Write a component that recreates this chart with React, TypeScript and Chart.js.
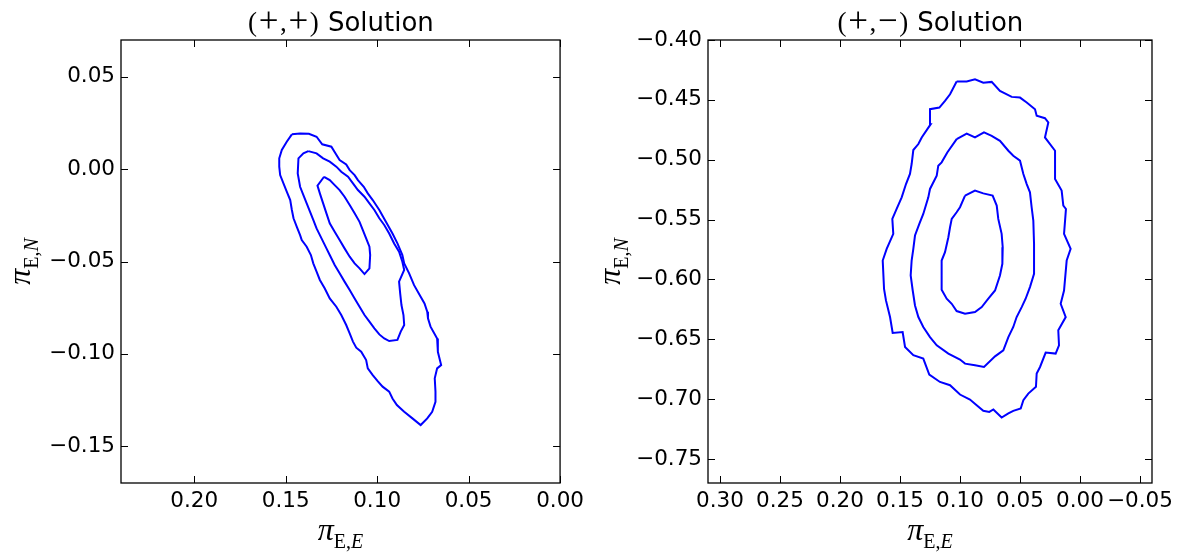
import React, { useEffect, useRef } from 'react';
import { Chart, registerables } from 'chart.js';

Chart.register(...registerables);

type Pt = [number, number];

// ---------- titles / labels ----------
const leftTitleMath = ['(', '+', ',', '+', ')'];
const rightTitleMath = ['(', '+', ',', '\u2212', ')'];
const titleWord = 'Solution';

// ---------- axes ----------
const leftXRange: [number, number] = [0.0, 0.24];
const leftYRange: [number, number] = [-0.17, 0.07];
const leftXTicks = [0.2, 0.15, 0.1, 0.05, 0.0];
const leftYTicks = [-0.15, -0.1, -0.05, 0.0, 0.05];

const rightXRange: [number, number] = [-0.06, 0.31];
const rightYRange: [number, number] = [-0.77, -0.4];
const rightXTicks = [0.3, 0.25, 0.2, 0.15, 0.1, 0.05, 0.0, -0.05];
const rightYTicks = [-0.75, -0.7, -0.65, -0.6, -0.55, -0.5, -0.45, -0.4];

// ---------- (+,+) contours ----------
const ppOuter: Pt[] = [
  [0.1466, 0.0189], [0.1421, 0.0194], [0.1373, 0.0192], [0.1331, 0.0176], [0.13, 0.0135],
  [0.125, 0.0122], [0.1228, 0.0086], [0.1205, 0.005], [0.1169, 0.0026], [0.115, -0.0005],
  [0.1123, -0.0032], [0.1105, -0.0059], [0.1073, -0.0095], [0.1051, -0.0131], [0.1024, -0.0167],
  [0.0988, -0.0221], [0.0952, -0.0285], [0.0916, -0.0348], [0.0889, -0.0402], [0.0862, -0.0465],
  [0.0852, -0.051], [0.0825, -0.0564], [0.0798, -0.0628], [0.0762, -0.0691], [0.0741, -0.0727],
  [0.0726, -0.0772], [0.0722, -0.0808], [0.0708, -0.0853], [0.0672, -0.0917], [0.0668, -0.0989],
  [0.065, -0.1061], [0.0672, -0.1079], [0.0685, -0.1133], [0.0681, -0.1205], [0.0681, -0.126],
  [0.0699, -0.1314], [0.0726, -0.135], [0.0762, -0.1386], [0.0807, -0.135], [0.0852, -0.1314],
  [0.0892, -0.1278], [0.0916, -0.1242], [0.0934, -0.1205], [0.097, -0.1178], [0.0997, -0.1148],
  [0.1024, -0.1115], [0.1051, -0.1079], [0.106, -0.1034], [0.1087, -0.0989], [0.1114, -0.0967],
  [0.1132, -0.0934], [0.115, -0.0889], [0.1169, -0.0844], [0.1196, -0.079], [0.1223, -0.0745],
  [0.1259, -0.07], [0.1286, -0.0646], [0.1313, -0.06], [0.1331, -0.0555], [0.1349, -0.051],
  [0.1362, -0.0465], [0.1385, -0.042], [0.1412, -0.0384], [0.1421, -0.0357], [0.1439, -0.0312],
  [0.1457, -0.0266], [0.1466, -0.0221], [0.1475, -0.0167], [0.1494, -0.0122], [0.1512, -0.0077],
  [0.153, -0.0032], [0.1535, 0.0014], [0.1535, 0.0059], [0.1521, 0.0104], [0.1494, 0.0149],
];
const ppMiddle: Pt[] = [
  [0.1376, 0.0098], [0.1331, 0.0086], [0.1295, 0.0059], [0.1259, 0.0041], [0.1223, 0.0014],
  [0.1196, -0.0014], [0.1159, -0.0041], [0.1132, -0.0077], [0.1105, -0.0113], [0.1069, -0.0149],
  [0.1042, -0.0185], [0.1015, -0.0221], [0.0988, -0.0266], [0.0961, -0.0302], [0.0934, -0.0348],
  [0.0907, -0.0402], [0.088, -0.0447], [0.0862, -0.0501], [0.0852, -0.0546], [0.088, -0.0609],
  [0.0874, -0.0673], [0.0867, -0.0736], [0.0856, -0.079], [0.0852, -0.0844], [0.0871, -0.088],
  [0.0889, -0.0925], [0.0934, -0.0931], [0.0961, -0.0917], [0.0988, -0.0895], [0.1015, -0.0862],
  [0.1042, -0.0826], [0.1069, -0.079], [0.1096, -0.0745], [0.1123, -0.07], [0.115, -0.0655],
  [0.1178, -0.0609], [0.1205, -0.0564], [0.1232, -0.0519], [0.1259, -0.0465], [0.1277, -0.0429],
  [0.1304, -0.0375], [0.1331, -0.0321], [0.1349, -0.0275], [0.1367, -0.023], [0.1385, -0.0185],
  [0.1403, -0.014], [0.1421, -0.0095], [0.1434, -0.0023], [0.143, 0.0059], [0.1403, 0.0086],
];
const ppInner: Pt[] = [
  [0.129, -0.0041], [0.1259, -0.0059], [0.1232, -0.0086], [0.1205, -0.0113], [0.1178, -0.0149],
  [0.115, -0.0194], [0.1123, -0.0239], [0.1096, -0.0285], [0.1078, -0.033], [0.106, -0.0375],
  [0.1042, -0.042], [0.1038, -0.0465], [0.1042, -0.0537], [0.1069, -0.0568], [0.1096, -0.0537],
  [0.1123, -0.051], [0.115, -0.0474], [0.1178, -0.0429], [0.1205, -0.0384], [0.1232, -0.0339],
  [0.1259, -0.0293], [0.1277, -0.0239], [0.1295, -0.0185], [0.1313, -0.0131], [0.1326, -0.0089],
];

// ---------- (+,-) contours ----------
const pmOuter: Pt[] = [
  [0.1028, -0.4347], [0.0944, -0.4347], [0.0875, -0.4328], [0.0806, -0.4356], [0.0736, -0.435],
  [0.0667, -0.4425], [0.0569, -0.4475], [0.05, -0.4481], [0.0444, -0.4522], [0.0375, -0.4578],
  [0.0361, -0.4633], [0.0292, -0.4653], [0.0264, -0.4689], [0.0292, -0.4814], [0.0208, -0.4925],
  [0.0208, -0.5161], [0.0153, -0.5258], [0.0139, -0.5383], [0.0117, -0.5411], [0.0133, -0.5619],
  [0.0078, -0.5744], [0.0111, -0.5842], [0.0133, -0.6092], [0.0161, -0.6203], [0.0119, -0.6314],
  [0.0181, -0.6425], [0.0175, -0.655], [0.0203, -0.6619], [0.0286, -0.6611], [0.0333, -0.6731],
  [0.0361, -0.6786], [0.0367, -0.6897], [0.0431, -0.6953], [0.0472, -0.7008], [0.0494, -0.7078],
  [0.0556, -0.7097], [0.0597, -0.7119], [0.0653, -0.7153], [0.0722, -0.7086], [0.0756, -0.7106],
  [0.0806, -0.7097], [0.0861, -0.705], [0.0917, -0.7003], [0.1, -0.6961], [0.1083, -0.6883],
  [0.1167, -0.6856], [0.1256, -0.6794], [0.1306, -0.6661], [0.1389, -0.6633], [0.1458, -0.6564],
  [0.1478, -0.6439], [0.1561, -0.6447], [0.1583, -0.6314], [0.1617, -0.6175], [0.1633, -0.6078],
  [0.1644, -0.5842], [0.1611, -0.5744], [0.1556, -0.5619], [0.1564, -0.5494], [0.1528, -0.5411],
  [0.1486, -0.5314], [0.145, -0.5203], [0.1417, -0.5119], [0.1403, -0.5036], [0.1389, -0.4919],
  [0.1347, -0.4869], [0.1319, -0.4814], [0.1244, -0.4703], [0.125, -0.4578], [0.1172, -0.4564],
  [0.1125, -0.4508], [0.1083, -0.4453],
];
const pmMiddle: Pt[] = [
  [0.1028, -0.4828], [0.0944, -0.4781], [0.0875, -0.4814], [0.08, -0.4772], [0.0736, -0.48],
  [0.0667, -0.4842], [0.0597, -0.4925], [0.0556, -0.4967], [0.05, -0.5008], [0.0472, -0.5119],
  [0.0444, -0.5203], [0.0417, -0.5272], [0.0403, -0.5397], [0.0389, -0.5508], [0.0383, -0.5703],
  [0.0383, -0.5953], [0.0417, -0.6064], [0.0453, -0.6161], [0.0486, -0.6231], [0.0528, -0.6314],
  [0.0556, -0.6397], [0.0597, -0.6481], [0.0639, -0.6592], [0.0708, -0.6642], [0.08, -0.6731],
  [0.0875, -0.6717], [0.0958, -0.6703], [0.1, -0.6669], [0.1097, -0.6619], [0.1194, -0.655],
  [0.125, -0.6481], [0.1306, -0.6397], [0.1347, -0.6314], [0.1375, -0.6217], [0.1394, -0.6092],
  [0.1411, -0.5967], [0.1403, -0.5842], [0.1389, -0.5744], [0.1375, -0.5633], [0.1339, -0.5536],
  [0.1306, -0.5453], [0.1264, -0.5314], [0.125, -0.5244], [0.1194, -0.5133], [0.1181, -0.505],
  [0.1153, -0.5022], [0.1106, -0.4939],
];
const pmInner: Pt[] = [
  [0.0958, -0.53], [0.0875, -0.5258], [0.0806, -0.5281], [0.0728, -0.53], [0.0694, -0.5383],
  [0.0681, -0.5494], [0.0653, -0.5619], [0.0644, -0.5731], [0.0647, -0.5869], [0.0667, -0.5967],
  [0.0708, -0.6092], [0.0764, -0.6161], [0.0819, -0.6231], [0.0875, -0.6272], [0.0958, -0.6286],
  [0.1028, -0.6264], [0.1069, -0.6203], [0.1111, -0.6161], [0.1153, -0.6086], [0.1153, -0.5953],
  [0.1153, -0.5842], [0.1125, -0.5772], [0.1097, -0.5647], [0.1083, -0.5564], [0.1069, -0.5494],
  [0.1028, -0.5439], [0.1, -0.5397],
];

// ---------- rendering ----------
const SERIF = '"Liberation Serif", "DejaVu Serif", serif';
const SANS = '"DejaVu Sans", sans-serif';
const TICK_FONT_SIZE = 21.5;
const MATH_SIZE = 27;

// advance widths (em) and glyph sizes of Computer-Modern-like math glyphs
const mathAdvance: Record<string, number> = {
  '(': 0.39,
  ')': 0.39,
  '+': 0.8,
  '\u2212': 0.8,
  ',': 0.3,
};
const mathGlyphSize: Record<string, number> = {
  '(': 27,
  ')': 27,
  '+': 35,
  '\u2212': 35,
  ',': 27,
};

type Seg = { t: string; font: string; dy: number; adv?: number };

function drawSegs(ctx: CanvasRenderingContext2D, segs: Seg[], cx: number, baseline: number) {
  const widths = segs.map((s) => {
    ctx.font = s.font;
    return s.adv !== undefined ? s.adv : ctx.measureText(s.t).width;
  });
  const total = widths.reduce((a, b) => a + b, 0);
  let x = cx - total / 2;
  ctx.textBaseline = 'alphabetic';
  segs.forEach((s, i) => {
    ctx.font = s.font;
    if (s.adv !== undefined) {
      ctx.textAlign = 'center';
      ctx.fillText(s.t, x + widths[i] / 2, baseline + s.dy);
    } else {
      ctx.textAlign = 'left';
      ctx.fillText(s.t, x, baseline + s.dy);
    }
    x += widths[i];
  });
}

function fmt(v: number) {
  const r = Math.round(v * 100) / 100;
  return (r < 0 ? '\u2212' : '') + Math.abs(r).toFixed(2);
}

interface Panel {
  titleMath: string[];
  xRange: [number, number];
  yRange: [number, number];
  xTicks: number[];
  yTicks: number[];
  contours: Pt[][];
  canvasWidth: number;
  yAxisWidth: number;
  padRight: number;
}

function panelPlugin(p: Panel) {
  return {
    id: 'panelDecor',
    afterDraw(chart: any) {
      const ctx: CanvasRenderingContext2D = chart.ctx;
      const a = chart.chartArea;
      const xs = chart.scales.x;
      const ys = chart.scales.y;
      ctx.save();
      ctx.strokeStyle = '#000';
      ctx.lineWidth = 1.3;
      ctx.strokeRect(a.left, a.top, a.right - a.left, a.bottom - a.top);
      const tl = 7;
      ctx.beginPath();
      xs.ticks.forEach((t: any) => {
        const px = Math.round(xs.getPixelForValue(t.value)) + 0.5;
        ctx.moveTo(px, a.bottom);
        ctx.lineTo(px, a.bottom - tl);
        ctx.moveTo(px, a.top);
        ctx.lineTo(px, a.top + tl);
      });
      ys.ticks.forEach((t: any) => {
        const py = Math.round(ys.getPixelForValue(t.value)) + 0.5;
        ctx.moveTo(a.left, py);
        ctx.lineTo(a.left + tl, py);
        ctx.moveTo(a.right, py);
        ctx.lineTo(a.right - tl, py);
      });
      ctx.lineWidth = 1;
      ctx.stroke();

      ctx.fillStyle = '#000';
      const cx = (a.left + a.right) / 2;
      // title
      const titleSegs: Seg[] = p.titleMath.map((ch) => {
        const sz = mathGlyphSize[ch] ?? MATH_SIZE;
        const big = sz > MATH_SIZE;
        return {
          t: ch,
          font: `${sz}px ${SERIF}`,
          dy: big ? 1 : 0,
          adv: (mathAdvance[ch] ?? 0.5) * MATH_SIZE,
        };
      });
      titleSegs.push({ t: ' ' + titleWord, font: `26px ${SANS}`, dy: 0 });
      drawSegs(ctx, titleSegs, cx, 31);
      // x axis label
      drawSegs(
        ctx,
        [
          { t: '\u03C0', font: `italic 32px ${SERIF}`, dy: 0 },
          { t: 'E,', font: `20px ${SERIF}`, dy: 8 },
          { t: 'E', font: `italic 20px ${SERIF}`, dy: 8 },
        ],
        cx,
        540
      );
      // y axis label
      const cy = (a.top + a.bottom) / 2;
      ctx.save();
      ctx.translate(30, cy);
      ctx.rotate(-Math.PI / 2);
      drawSegs(
        ctx,
        [
          { t: '\u03C0', font: `italic 32px ${SERIF}`, dy: 0 },
          { t: 'E,', font: `20px ${SERIF}`, dy: 8 },
          { t: 'N', font: `italic 20px ${SERIF}`, dy: 8 },
        ],
        0,
        0
      );
      ctx.restore();
      ctx.restore();
    },
  };
}

function makeConfig(p: Panel): any {
  return {
    type: 'scatter',
    data: {
      datasets: p.contours.map((c) => ({
        data: [...c, c[0]].map(([x, y]) => ({ x, y })),
        showLine: true,
        borderColor: '#0000ff',
        backgroundColor: '#0000ff',
        borderWidth: 2,
        pointRadius: 0,
        pointHoverRadius: 0,
        fill: false,
        tension: 0,
      })),
    },
    options: {
      responsive: false,
      animation: false,
      events: [],
      layout: { padding: { left: 0, top: 40, right: p.padRight, bottom: 0 } },
      plugins: {
        legend: { display: false },
        tooltip: { enabled: false },
        title: { display: false },
      },
      scales: {
        x: {
          type: 'linear',
          reverse: true,
          min: p.xRange[0],
          max: p.xRange[1],
          afterBuildTicks: (s: any) => {
            s.ticks = p.xTicks.map((v) => ({ value: v }));
          },
          afterFit: (s: any) => {
            s.height = 556 - 483;
          },
          grid: { display: false, drawTicks: false },
          border: { display: false },
          ticks: {
            autoSkip: false,
            maxRotation: 0,
            padding: 6,
            color: '#000',
            font: { family: SANS, size: TICK_FONT_SIZE },
            callback: (v: any) => fmt(Number(v)),
          },
        },
        y: {
          type: 'linear',
          min: p.yRange[0],
          max: p.yRange[1],
          afterBuildTicks: (s: any) => {
            s.ticks = p.yTicks.map((v) => ({ value: v }));
          },
          afterFit: (s: any) => {
            s.width = p.yAxisWidth;
          },
          grid: { display: false, drawTicks: false },
          border: { display: false },
          ticks: {
            autoSkip: false,
            padding: 6,
            color: '#000',
            font: { family: SANS, size: TICK_FONT_SIZE },
            callback: (v: any) => fmt(Number(v)),
          },
        },
      },
    },
    plugins: [panelPlugin(p)],
  };
}

const leftPanel: Panel = {
  titleMath: leftTitleMath,
  xRange: leftXRange,
  yRange: leftYRange,
  xTicks: leftXTicks,
  yTicks: leftYTicks,
  contours: [ppOuter, ppMiddle, ppInner],
  canvasWidth: 590,
  yAxisWidth: 121,
  padRight: 590 - 564,
};

const rightPanel: Panel = {
  titleMath: rightTitleMath,
  xRange: rightXRange,
  yRange: rightYRange,
  xTicks: rightXTicks,
  yTicks: rightYTicks,
  contours: [pmOuter, pmMiddle, pmInner],
  canvasWidth: 598,
  yAxisWidth: 118,
  padRight: 598 - 562,
};

function PanelChart({ panel, left }: { panel: Panel; left: number }) {
  const ref = useRef<HTMLCanvasElement | null>(null);
  useEffect(() => {
    if (!ref.current) return;
    const chart = new Chart(ref.current, makeConfig(panel));
    return () => chart.destroy();
  }, [panel]);
  return (
    <canvas
      ref={ref}
      width={panel.canvasWidth}
      height={556}
      style={{
        position: 'absolute',
        left,
        top: 0,
        width: panel.canvasWidth,
        height: 556,
        display: 'block',
      }}
    />
  );
}

export default function App() {
  return (
    <div
      style={{
        position: 'fixed',
        left: 0,
        top: 0,
        width: 1188,
        height: 556,
        background: '#fff',
        overflow: 'hidden',
      }}
    >
      <PanelChart panel={leftPanel} left={0} />
      <PanelChart panel={rightPanel} left={590} />
    </div>
  );
}
